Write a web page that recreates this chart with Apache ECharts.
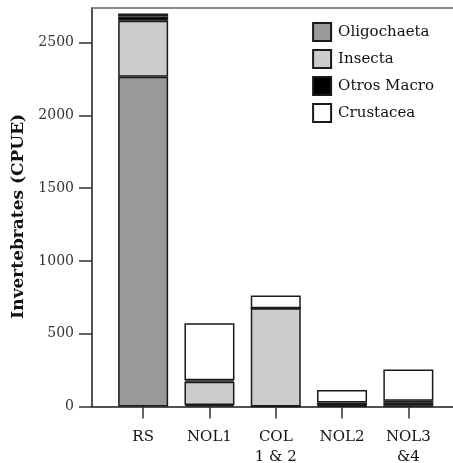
<!DOCTYPE html>
<html>
<head>
<meta charset="utf-8">
<script src="https://cdn.jsdelivr.net/npm/echarts@6/dist/echarts.min.js"></script>
<style>
  html, body { margin: 0; padding: 0; background: #fff; }
  #chart { width: 453px; height: 463px; }
</style>
</head>
<body>
<div id="chart"></div>
<script>
// Sampling sites and invertebrate catch per unit effort, stacked by group
const sites = ['RS', 'NOL1', 'COL\n1 & 2', 'NOL2', 'NOL3\n&4'];
const oligochaeta = [2265, 10, 0, 3, 5];
const insecta     = [385, 160, 675, 7, 20];
const otrosMacro  = [30, 10, 0, 18, 15];
const crustacea   = [20, 392, 87, 85, 215];
const yTicks = [0, 500, 1000, 1500, 2000, 2500];
const yMax = 2738;

const serif = '"DejaVu Serif", "Liberation Serif", serif';
const edge = '#1a1a1a';

function stackSeries(name, values, color) {
  return {
    name: name,
    type: 'bar',
    stack: 'total',
    xAxisIndex: 2,
    yAxisIndex: 1,
    barWidth: 50,
    data: values,
    itemStyle: { color: color, borderColor: edge, borderWidth: 1.5 },
    emphasis: { disabled: true }
  };
}

const chart = echarts.init(document.getElementById('chart'), null, { renderer: 'canvas' });
chart.setOption({
  animation: false,
  backgroundColor: '#ffffff',
  grid: [
    // frame: y axis, baseline and top rule
    { left: 92, right: -4, top: 8, bottom: 56.5, outerBoundsMode: 'none' },
    // bars and site labels
    { left: 110, right: 11.5, top: 8, bottom: 56.5, outerBoundsMode: 'none' }
  ],
  legend: {
    right: 14,
    top: 17,
    orient: 'vertical',
    itemWidth: 18,
    itemHeight: 18,
    itemGap: 7,
    icon: 'rect',
    textStyle: { fontFamily: serif, fontSize: 15, color: '#111', padding: [0, 0, 0, 2] },
    data: ['Oligochaeta', 'Insecta', 'Otros Macro', 'Crustacea']
  },
  xAxis: [
    {
      gridIndex: 0, type: 'value', position: 'bottom', min: 0, max: 1,
      axisLine: { show: true, lineStyle: { color: edge, width: 1.5 } },
      axisTick: { show: false }, axisLabel: { show: false }, splitLine: { show: false }
    },
    {
      gridIndex: 0, type: 'value', position: 'top', min: 0, max: 1,
      axisLine: { show: true, lineStyle: { color: '#666', width: 1.5 } },
      axisTick: { show: false }, axisLabel: { show: false }, splitLine: { show: false }
    },
    {
      gridIndex: 1, type: 'category', data: sites,
      axisLine: { show: false },
      axisTick: { show: true, alignWithLabel: true, length: 12, lineStyle: { color: '#333', width: 1.5 } },
      axisLabel: { fontFamily: serif, fontSize: 15, color: '#111', margin: 21, lineHeight: 20 }
    }
  ],
  yAxis: [
    {
      gridIndex: 0, type: 'value', min: 0, max: yMax,
      name: 'Invertebrates (CPUE)',
      nameLocation: 'middle',
      nameGap: 63,
      nameTextStyle: { fontFamily: serif, fontSize: 17, fontWeight: 'bold', color: '#111', padding: [0, 18, 0, 0] },
      axisLine: { show: true, lineStyle: { color: edge, width: 1.5 } },
      axisTick: { show: true, length: 13, customValues: yTicks, lineStyle: { color: '#333', width: 1.5 } },
      axisLabel: {
        customValues: yTicks, fontFamily: serif, fontSize: 14, color: '#333', margin: 18,
        formatter: function (v) { return String(v); }
      },
      splitLine: { show: false }
    },
    {
      gridIndex: 1, type: 'value', min: 0, max: yMax, show: false
    }
  ],
  series: [
    stackSeries('Oligochaeta', oligochaeta, '#999999'),
    stackSeries('Insecta', insecta, '#cccccc'),
    stackSeries('Otros Macro', otrosMacro, '#000000'),
    stackSeries('Crustacea', crustacea, '#ffffff')
  ]
});
</script>
</body>
</html>
